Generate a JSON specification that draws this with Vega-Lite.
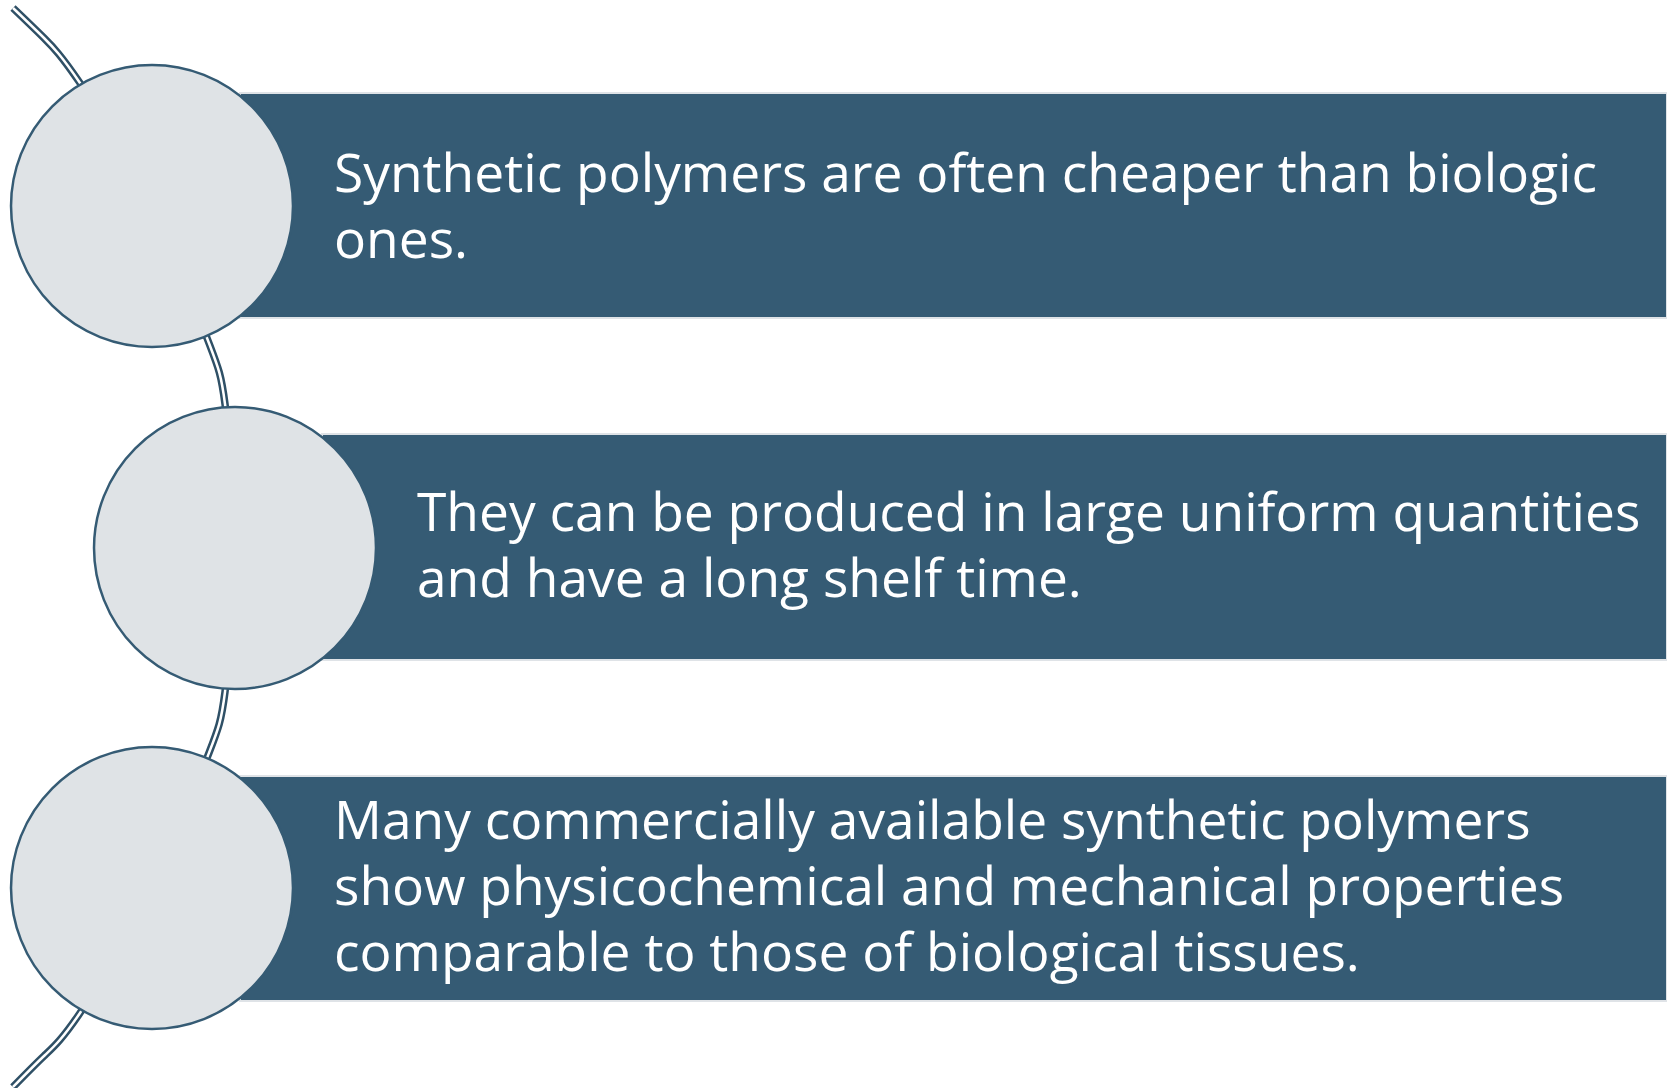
{
  "$schema": "https://vega.github.io/schema/vega-lite/v6.json",
  "width": 1667,
  "height": 1088,
  "autosize": {"type": "none"},
  "padding": 0,
  "background": "white",
  "config": {"view": {"stroke": null}},
  "datasets": {
    "arc": [
      {"i": 0, "x": 13, "y": 8},
      {"i": 1, "x": 44, "y": 38},
      {"i": 2, "x": 80, "y": 83},
      {"i": 3, "x": 152, "y": 206},
      {"i": 4, "x": 207, "y": 338},
      {"i": 5, "x": 225, "y": 404},
      {"i": 6, "x": 234, "y": 548},
      {"i": 7, "x": 225, "y": 692},
      {"i": 8, "x": 207, "y": 758},
      {"i": 9, "x": 152, "y": 888},
      {"i": 10, "x": 80, "y": 1013},
      {"i": 11, "x": 44, "y": 1056},
      {"i": 12, "x": 13, "y": 1087}
    ],
    "bars": [
      {"step": 1, "x": 240, "x2": 1667, "y": 93, "y2": 318},
      {"step": 2, "x": 322, "x2": 1667, "y": 434, "y2": 660},
      {"step": 3, "x": 240, "x2": 1667, "y": 776, "y2": 1001}
    ],
    "circles": [
      {"step": 1, "x": 152, "y": 206},
      {"step": 2, "x": 235, "y": 548},
      {"step": 3, "x": 152, "y": 888}
    ],
    "lines": [
      {"step": 1, "x": 334, "y": 192, "text": "Synthetic polymers are often cheaper than biologic"},
      {"step": 1, "x": 334, "y": 258, "text": "ones."},
      {"step": 2, "x": 417, "y": 531, "text": "They can be produced in large uniform quantities"},
      {"step": 2, "x": 417, "y": 597, "text": "and have a long shelf time."},
      {"step": 3, "x": 334, "y": 839, "text": "Many commercially available synthetic polymers"},
      {"step": 3, "x": 334, "y": 905, "text": "show physicochemical and mechanical properties"},
      {"step": 3, "x": 334, "y": 971, "text": "comparable to those of biological tissues."}
    ]
  },
  "layer": [
    {
      "data": {"name": "arc"},
      "mark": {"type": "line", "color": "#2f5066", "strokeWidth": 7.5, "interpolate": "natural", "strokeCap": "butt"},
      "encoding": {
        "x": {"field": "x", "type": "quantitative", "scale": {"domain": [0, 1667], "nice": false, "zero": false}, "axis": null},
        "y": {"field": "y", "type": "quantitative", "scale": {"domain": [0, 1088], "reverse": true, "nice": false, "zero": false}, "axis": null},
        "order": {"field": "i", "type": "quantitative"}
      }
    },
    {
      "data": {"name": "arc"},
      "mark": {"type": "line", "color": "white", "strokeWidth": 2.5, "interpolate": "natural", "strokeCap": "butt"},
      "encoding": {
        "x": {"field": "x", "type": "quantitative", "scale": {"domain": [0, 1667], "nice": false, "zero": false}, "axis": null},
        "y": {"field": "y", "type": "quantitative", "scale": {"domain": [0, 1088], "reverse": true, "nice": false, "zero": false}, "axis": null},
        "order": {"field": "i", "type": "quantitative"}
      }
    },
    {
      "data": {"name": "bars"},
      "mark": {"type": "rect", "fill": "#355b74", "stroke": "#dfe3e7", "strokeWidth": 2},
      "encoding": {
        "x": {"field": "x", "type": "quantitative", "scale": {"domain": [0, 1667], "nice": false, "zero": false}, "axis": null},
        "x2": {"field": "x2"},
        "y": {"field": "y", "type": "quantitative", "scale": {"domain": [0, 1088], "reverse": true, "nice": false, "zero": false}, "axis": null},
        "y2": {"field": "y2"}
      }
    },
    {
      "data": {"name": "circles"},
      "mark": {"type": "point", "shape": "circle", "filled": true, "fill": "#dfe3e6", "stroke": "#355b74", "strokeWidth": 2.5, "opacity": 1, "fillOpacity": 1, "size": 79500},
      "encoding": {
        "x": {"field": "x", "type": "quantitative", "scale": {"domain": [0, 1667], "nice": false, "zero": false}, "axis": null},
        "y": {"field": "y", "type": "quantitative", "scale": {"domain": [0, 1088], "reverse": true, "nice": false, "zero": false}, "axis": null}
      }
    },
    {
      "data": {"name": "lines"},
      "mark": {"type": "text", "align": "left", "baseline": "alphabetic", "font": "Open Sans", "fontSize": 53.3, "color": "white"},
      "encoding": {
        "x": {"field": "x", "type": "quantitative", "scale": {"domain": [0, 1667], "nice": false, "zero": false}, "axis": null},
        "y": {"field": "y", "type": "quantitative", "scale": {"domain": [0, 1088], "reverse": true, "nice": false, "zero": false}, "axis": null},
        "text": {"field": "text"}
      }
    }
  ]
}
